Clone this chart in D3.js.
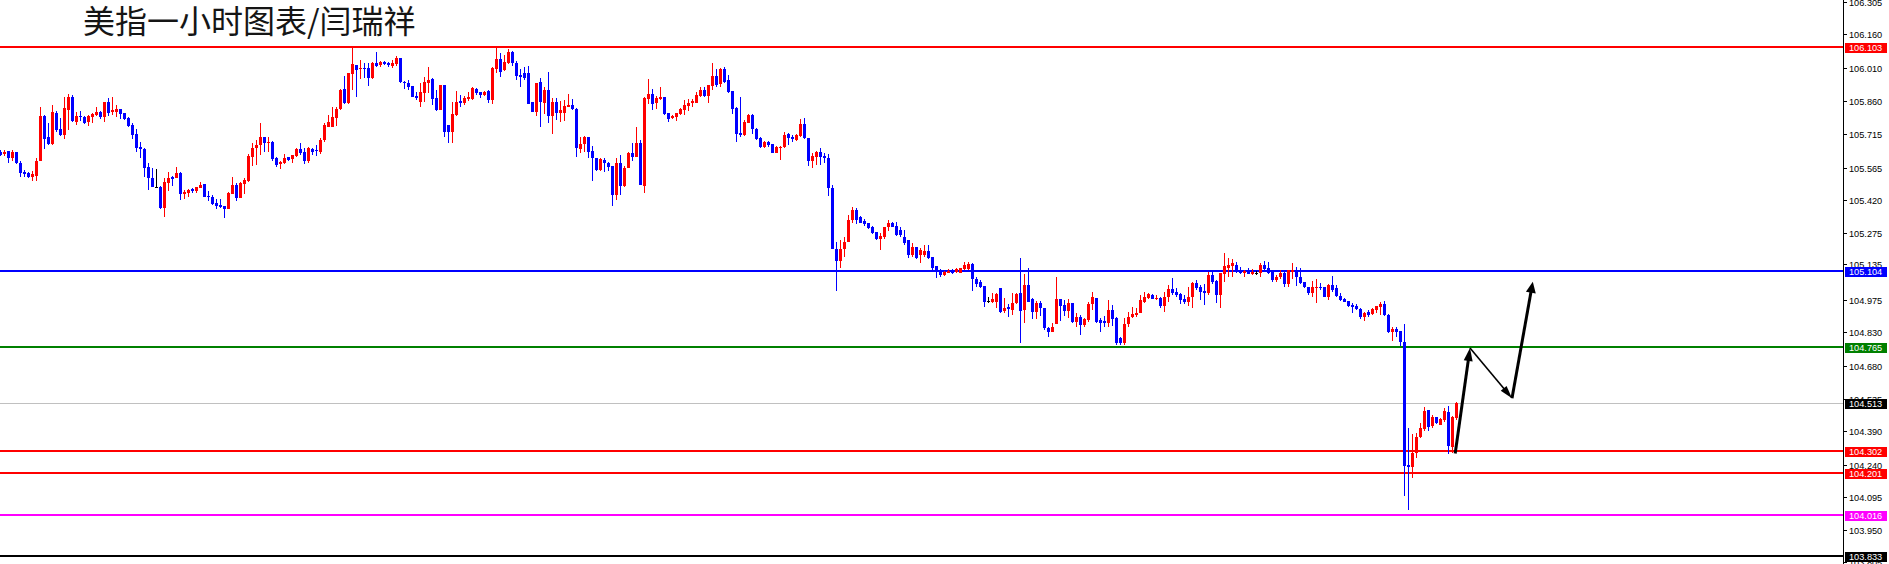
<!DOCTYPE html>
<html><head><meta charset="utf-8">
<script src="https://cdn.jsdelivr.net/npm/d3@7"></script>
<style>html,body{margin:0;padding:0;background:#fff;overflow:hidden}</style>
</head><body>
<svg id="c" width="1889" height="564"></svg>
<script>
const title = "美指一小时图表/闫瑞祥";
const opens = [
105.635,105.626,105.639,105.608,105.635,105.585,105.545,105.541,105.523,105.528,
105.594,105.795,105.702,105.670,105.809,105.737,105.711,105.822,105.880,105.768,
105.795,105.791,105.768,105.791,105.800,105.813,105.791,105.858,105.813,105.813,
105.826,105.809,105.786,105.755,105.715,105.657,105.648,105.568,105.519,105.479,
105.479,105.385,105.496,105.523,105.519,105.541,105.447,105.452,105.470,105.461,
105.474,105.492,105.438,105.434,105.407,105.398,105.394,105.381,105.447,105.487,
105.429,105.492,105.505,105.612,105.653,105.666,105.702,105.675,105.679,105.608,
105.581,105.585,105.612,105.603,105.617,105.648,105.635,105.594,105.648,105.644,
105.635,105.688,105.746,105.746,105.786,105.826,105.916,105.853,105.983,106.023,
106.005,106.009,106.009,105.965,106.032,106.023,106.036,106.032,106.018,106.027,
106.054,105.947,105.942,105.929,105.885,105.858,105.898,105.942,105.960,105.876,
105.822,105.933,105.755,105.724,105.800,105.862,105.853,105.871,105.871,105.916,
105.902,105.889,105.907,105.867,106.005,106.049,106.000,106.032,106.081,106.032,
105.978,105.987,105.987,105.858,105.813,105.947,105.853,105.911,105.795,105.858,
105.809,105.809,105.835,105.844,105.826,105.648,105.670,105.702,105.639,105.608,
105.554,105.599,105.585,105.572,105.443,105.585,105.483,105.563,105.630,105.612,
105.675,105.483,105.871,105.893,105.853,105.871,105.880,105.809,105.786,105.791,
105.804,105.822,105.840,105.853,105.853,105.885,105.911,105.885,105.929,105.974,
105.938,106.005,105.956,105.907,105.831,105.719,105.711,105.764,105.800,105.737,
105.697,105.657,105.679,105.670,105.630,105.656,105.657,105.715,105.702,105.688,
105.706,105.759,105.697,105.594,105.612,105.635,105.617,105.608,105.474,105.202,
105.149,105.202,105.233,105.331,105.376,105.345,105.327,105.318,105.300,105.278,
105.247,105.255,105.300,105.318,105.305,105.287,105.255,105.242,105.175,105.211,
105.175,105.175,105.193,105.166,105.126,105.108,105.086,105.095,105.104,105.099,
105.095,105.113,105.113,105.135,105.068,105.055,105.037,104.970,104.966,104.966,
105.028,104.926,104.943,104.930,104.961,105.006,104.930,105.042,104.979,104.921,
104.961,104.939,104.850,104.832,104.868,104.979,104.952,104.926,104.961,104.877,
104.899,104.863,104.885,104.957,104.984,104.885,104.881,104.872,104.930,104.894,
104.805,104.783,104.868,104.899,104.908,104.917,104.966,104.984,104.997,104.979,
104.984,104.948,104.988,105.024,105.010,105.001,104.979,104.966,104.988,105.050,
105.033,105.015,105.006,105.086,105.059,104.997,105.091,105.117,105.126,105.131,
105.108,105.095,105.104,105.091,105.095,105.095,105.131,105.117,105.099,105.064,
105.077,105.095,105.046,105.099,105.108,105.077,105.055,105.033,105.006,105.028,
105.033,105.033,104.988,105.042,105.028,104.992,104.979,104.970,104.952,104.948,
104.935,104.899,104.921,104.912,104.930,104.943,104.957,104.908,104.832,104.845,
104.836,104.787,104.239,104.230,104.292,104.364,104.399,104.484,104.413,104.453,
104.417,104.439,104.475,104.319,104.448];
const highs = [
105.644,105.644,105.639,105.644,105.635,105.594,105.554,105.545,105.550,105.608,
105.835,105.800,105.764,105.844,105.818,105.786,105.880,105.893,105.889,105.813,
105.818,105.795,105.800,105.809,105.835,105.818,105.858,105.876,105.880,105.844,
105.826,105.809,105.791,105.764,105.737,105.679,105.653,105.585,105.563,105.559,
105.483,105.519,105.545,105.528,105.568,105.545,105.465,105.470,105.474,105.479,
105.501,105.492,105.461,105.443,105.425,105.425,105.394,105.456,105.523,105.496,
105.501,105.519,105.626,105.675,105.688,105.764,105.702,105.702,105.684,105.612,
105.594,105.626,105.612,105.621,105.653,105.675,105.653,105.657,105.653,105.666,
105.697,105.764,105.800,105.835,105.835,105.916,105.974,105.987,106.107,106.023,
106.045,106.032,106.032,106.036,106.081,106.041,106.041,106.036,106.045,106.063,
106.054,105.951,105.956,105.929,105.902,105.942,105.969,106.014,105.965,105.911,
105.933,105.933,105.755,105.858,105.907,105.889,105.885,105.902,105.925,105.920,
105.902,105.907,105.911,106.014,106.103,106.076,106.067,106.094,106.085,106.041,
106.005,106.014,106.018,105.858,105.942,105.965,105.925,105.991,105.876,105.876,
105.862,105.867,105.893,105.871,105.831,105.702,105.706,105.702,105.661,105.608,
105.608,105.608,105.590,105.572,105.608,105.621,105.572,105.635,105.675,105.746,
105.688,105.880,105.960,105.916,105.885,105.925,105.880,105.809,105.800,105.809,
105.831,105.867,105.871,105.871,105.902,105.925,105.925,105.933,106.032,106.005,
106.009,106.014,105.978,105.907,105.835,105.880,105.777,105.804,105.804,105.742,
105.702,105.684,105.684,105.670,105.661,105.661,105.724,105.719,105.711,105.715,
105.782,105.786,105.697,105.630,105.639,105.653,105.630,105.626,105.487,105.233,
105.242,105.255,105.354,105.389,105.385,105.349,105.336,105.318,105.305,105.278,
105.273,105.300,105.331,105.322,105.322,105.300,105.287,105.242,105.229,105.211,
105.206,105.220,105.220,105.166,105.126,105.113,105.104,105.113,105.113,105.117,
105.117,105.144,105.144,105.140,105.077,105.064,105.037,104.988,105.006,105.006,
105.028,104.984,104.957,105.006,105.006,105.162,105.091,105.117,104.984,104.970,
104.970,104.939,104.854,104.872,105.077,104.979,104.975,104.979,104.961,104.917,
104.908,104.894,104.966,105.010,104.984,104.894,104.903,104.975,104.952,104.899,
104.810,104.894,104.921,104.943,104.939,104.997,105.010,105.006,105.001,104.997,
104.988,105.010,105.042,105.073,105.028,105.006,104.997,105.033,105.055,105.064,
105.042,105.046,105.099,105.099,105.064,105.095,105.184,105.162,105.158,105.144,
105.122,105.108,105.117,105.113,105.104,105.140,105.149,105.144,105.099,105.086,
105.108,105.099,105.108,105.140,105.122,105.117,105.055,105.033,105.059,105.068,
105.050,105.033,105.046,105.082,105.042,105.006,104.984,104.970,104.961,104.957,
104.939,104.921,104.930,104.939,104.948,104.966,104.970,104.912,104.854,104.854,
104.836,104.868,104.404,104.377,104.381,104.426,104.497,104.484,104.462,104.453,
104.448,104.493,104.502,104.457,104.520];
const lows = [
105.617,105.617,105.585,105.594,105.581,105.523,105.523,105.519,105.505,105.505,
105.594,105.648,105.666,105.666,105.724,105.706,105.693,105.733,105.768,105.755,
105.773,105.759,105.751,105.764,105.795,105.782,105.768,105.795,105.800,105.791,
105.782,105.777,105.746,105.693,105.635,105.608,105.523,105.465,105.479,105.479,
105.381,105.345,105.461,105.483,105.519,105.421,105.425,105.434,105.452,105.452,
105.474,105.434,105.416,105.398,105.381,105.385,105.340,105.381,105.447,105.416,
105.429,105.447,105.501,105.572,105.577,105.621,105.635,105.635,105.594,105.568,
105.559,105.581,105.594,105.585,105.612,105.621,105.581,105.585,105.621,105.617,
105.626,105.679,105.746,105.746,105.751,105.822,105.849,105.849,105.911,105.880,
105.960,105.965,105.929,105.960,106.014,106.014,106.023,106.014,106.009,106.018,
105.942,105.916,105.911,105.880,105.867,105.835,105.858,105.898,105.844,105.818,
105.822,105.702,105.675,105.675,105.795,105.835,105.844,105.862,105.867,105.889,
105.876,105.885,105.853,105.849,105.987,105.969,105.996,106.027,106.018,105.956,
105.925,105.956,105.849,105.813,105.795,105.746,105.804,105.764,105.715,105.777,
105.768,105.773,105.835,105.822,105.612,105.630,105.635,105.608,105.505,105.550,
105.550,105.545,105.550,105.394,105.421,105.443,105.479,105.563,105.594,105.612,
105.487,105.452,105.849,105.822,105.826,105.867,105.800,105.768,105.782,105.773,
105.800,105.800,105.818,105.835,105.853,105.880,105.880,105.853,105.911,105.925,
105.925,105.942,105.898,105.804,105.679,105.702,105.706,105.764,105.715,105.688,
105.653,105.653,105.657,105.630,105.630,105.599,105.653,105.666,105.679,105.684,
105.702,105.693,105.572,105.563,105.577,105.577,105.585,105.438,105.202,105.015,
105.117,105.166,105.233,105.318,105.313,105.318,105.305,105.291,105.269,105.242,
105.198,105.247,105.282,105.300,105.260,105.255,105.220,105.162,105.166,105.158,
105.140,105.166,105.158,105.108,105.073,105.077,105.082,105.095,105.091,105.095,
105.095,105.108,105.108,105.015,105.033,105.028,104.943,104.961,104.961,104.939,
104.917,104.917,104.899,104.908,104.957,104.783,104.872,104.966,104.890,104.890,
104.903,104.841,104.810,104.832,104.868,104.881,104.903,104.894,104.872,104.854,
104.818,104.854,104.877,104.930,104.872,104.832,104.854,104.854,104.859,104.774,
104.774,104.774,104.854,104.894,104.899,104.917,104.961,104.979,104.979,104.975,
104.939,104.921,104.966,104.997,104.988,104.957,104.957,104.948,104.939,105.019,
104.975,104.952,104.997,105.046,104.961,104.939,105.055,105.077,105.077,105.095,
105.091,105.077,105.091,105.086,105.086,105.077,105.108,105.091,105.055,105.055,
105.068,105.033,105.033,105.068,105.037,105.046,105.028,104.997,104.988,104.961,
105.019,104.988,104.975,105.010,104.988,104.970,104.966,104.943,104.917,104.930,
104.890,104.881,104.899,104.908,104.917,104.908,104.903,104.827,104.792,104.810,
104.769,104.100,104.038,104.181,104.270,104.359,104.390,104.390,104.404,104.422,
104.417,104.431,104.288,104.292,104.439];
const closes = [
105.621,105.635,105.608,105.635,105.585,105.541,105.537,105.523,105.537,105.594,
105.795,105.693,105.670,105.813,105.733,105.711,105.831,105.880,105.773,105.795,
105.791,105.764,105.795,105.804,105.813,105.791,105.858,105.809,105.822,105.826,
105.804,105.782,105.751,105.711,105.653,105.648,105.563,105.519,105.479,105.479,
105.385,105.501,105.519,105.514,105.541,105.447,105.456,105.465,105.461,105.479,
105.487,105.434,105.434,105.403,105.394,105.389,105.381,105.452,105.487,105.429,
105.496,105.510,105.617,105.653,105.666,105.702,105.675,105.679,105.603,105.577,
105.590,105.608,105.599,105.621,105.648,105.630,105.594,105.653,105.635,105.639,
105.688,105.755,105.768,105.791,105.826,105.911,105.853,105.987,106.027,106.000,
106.009,106.005,105.965,106.032,106.018,106.036,106.027,106.023,106.032,106.054,
105.947,105.942,105.925,105.880,105.876,105.902,105.947,105.956,105.871,105.822,
105.933,105.724,105.724,105.804,105.858,105.853,105.876,105.880,105.920,105.898,
105.889,105.902,105.867,106.009,106.049,105.991,106.036,106.081,106.032,105.974,
105.969,105.965,105.849,105.813,105.942,105.858,105.911,105.795,105.858,105.809,
105.822,105.840,105.844,105.826,105.653,105.670,105.702,105.635,105.608,105.554,
105.603,105.585,105.568,105.443,105.585,105.483,105.563,105.630,105.612,105.675,
105.487,105.876,105.893,105.849,105.876,105.880,105.804,105.782,105.795,105.809,
105.826,105.844,105.853,105.862,105.889,105.911,105.885,105.933,105.974,105.933,
106.005,105.947,105.902,105.826,105.715,105.711,105.768,105.800,105.737,105.693,
105.657,105.679,105.666,105.630,105.657,105.658,105.711,105.697,105.693,105.711,
105.759,105.697,105.594,105.617,105.635,105.612,105.608,105.474,105.202,105.149,
105.202,105.233,105.331,105.376,105.331,105.318,105.313,105.296,105.273,105.247,
105.260,105.300,105.318,105.300,105.264,105.264,105.229,105.175,105.211,105.162,
105.198,105.193,105.162,105.117,105.099,105.086,105.099,105.104,105.095,105.113,
105.117,105.131,105.135,105.068,105.046,105.033,104.966,104.970,104.979,105.001,
104.921,104.939,104.935,104.961,105.001,104.926,105.042,104.966,104.921,104.961,
104.939,104.850,104.832,104.854,104.979,104.948,104.926,104.961,104.877,104.899,
104.863,104.890,104.957,104.988,104.877,104.872,104.872,104.930,104.890,104.783,
104.783,104.868,104.899,104.912,104.917,104.975,104.988,105.001,104.979,104.984,
104.948,104.988,105.024,105.006,104.997,104.975,104.966,104.988,105.050,105.028,
105.010,105.006,105.086,105.055,104.997,105.095,105.126,105.131,105.140,105.104,
105.095,105.104,105.091,105.099,105.095,105.131,105.113,105.095,105.064,105.077,
105.095,105.046,105.108,105.108,105.077,105.050,105.033,105.006,105.033,105.033,
105.028,104.988,105.042,105.019,104.992,104.975,104.966,104.948,104.943,104.935,
104.899,104.917,104.908,104.935,104.948,104.957,104.908,104.832,104.845,104.832,
104.787,104.234,104.230,104.292,104.364,104.404,104.480,104.408,104.453,104.426,
104.444,104.480,104.323,104.453,104.513];

const tickLabels = ["106.305","106.160","106.010","105.860","105.715","105.565","105.420","105.275","105.135",
  "104.975","104.830","104.680","104.535","104.390","104.240","104.095","103.950","103.805"];
const levelPrices = [106.103, 105.104, 104.765, 104.513, 104.302, 104.201, 104.016, 103.833];
const levelLabels = ["106.103","105.104","104.765","104.513","104.302","104.201","104.016","103.833"];
// forecast path: [bar index, price]
const arrowPath = [[363.8, 104.290], [367.5, 104.760], [378.0, 104.536], [383.2, 105.056]];

// ---- styles (kept separate from data) ----
const levelLineColors = ["#ff0000","#0000ff","#008000","#c0c0c0","#ff0000","#ff0000","#ff00ff","#000000"];
const levelBoxColors  = ["#ff0000","#0000ff","#008000","#000000","#ff0000","#ff0000","#ff00ff","#000000"];
const levelWidths     = [2,2,2,1,2,2,2,2];

const W = 1889, H = 564, axisX = 1843;
const svg = d3.select("#c");
svg.append("rect").attr("width", W).attr("height", H).attr("fill", "#fff");

const x = d3.scaleLinear().domain([0, axisX / 4]).range([0, axisX]);
const y = d3.scaleLinear().domain([103.833, 106.305]).range([555.9, 1.7]);

const bars = opens.map((o, i) => ({i, o, h: highs[i], l: lows[i], c: closes[i]}));
const col = d => d.c > d.o ? "#ff0000" : (d.c < d.o ? "#0000ff" : "#000000");

// level lines
const lv = svg.append("g");
levelPrices.forEach((p, k) => {
  const yy = Math.round(y(p));
  lv.append("line").attr("x1", 0).attr("x2", axisX).attr("y1", yy + (levelWidths[k] % 2 ? 0.5 : 0)).attr("y2", yy + (levelWidths[k] % 2 ? 0.5 : 0))
    .attr("stroke", levelLineColors[k]).attr("stroke-width", levelWidths[k]).attr("shape-rendering", "crispEdges");
});

// candles
const cg = svg.append("g").attr("shape-rendering", "crispEdges");
cg.selectAll("line.w").data(bars).join("line").attr("class", "w")
  .attr("x1", d => Math.round(x(d.i)) + 0.5).attr("x2", d => Math.round(x(d.i)) + 0.5)
  .attr("y1", d => y(d.h)).attr("y2", d => y(d.l)).attr("stroke", col).attr("stroke-width", 1);
cg.selectAll("rect.b").data(bars).join("rect").attr("class", "b")
  .attr("x", d => Math.round(x(d.i)) - 1).attr("width", 3)
  .attr("y", d => Math.min(y(d.o), y(d.c)))
  .attr("height", d => Math.max(1, Math.abs(y(d.o) - y(d.c))))
  .attr("fill", col);

// forecast arrows
function arrow(p0, p1, sw, hl, hw) {
  const x0 = x(p0[0]), y0 = y(p0[1]), x1 = x(p1[0]), y1 = y(p1[1]);
  const dx = x1 - x0, dy = y1 - y0, L = Math.hypot(dx, dy), ux = dx / L, uy = dy / L;
  const bx = x1 - ux * hl, by = y1 - uy * hl;
  svg.append("line").attr("x1", x0).attr("y1", y0).attr("x2", x1 - ux * hl * 0.7).attr("y2", y1 - uy * hl * 0.7)
    .attr("stroke", "#000").attr("stroke-width", sw);
  svg.append("polygon").attr("points", [[x1, y1], [bx - uy * hw, by + ux * hw], [bx + uy * hw, by - ux * hw]].map(q => q.join(",")).join(" "))
    .attr("fill", "#000");
}
arrow(arrowPath[0], arrowPath[1], 3, 13, 4.5);
arrow(arrowPath[1], arrowPath[2], 1.6, 13, 3.8);
arrow(arrowPath[2], arrowPath[3], 3, 11, 5);

// right axis
const ax = svg.append("g");
ax.append("rect").attr("x", axisX + 1).attr("y", 0).attr("width", W - axisX).attr("height", H).attr("fill", "#fff");
ax.append("line").attr("x1", axisX + 0.5).attr("x2", axisX + 0.5).attr("y1", 0).attr("y2", H)
  .attr("stroke", "#000").attr("stroke-width", 1).attr("shape-rendering", "crispEdges");
tickLabels.forEach(t => {
  const yy = Math.round(y(+t)) + 0.5;
  ax.append("line").attr("x1", axisX).attr("x2", axisX + 4).attr("y1", yy).attr("y2", yy)
    .attr("stroke", "#000").attr("shape-rendering", "crispEdges");
  ax.append("text").attr("x", axisX + 6).attr("y", yy).attr("dy", "0.35em")
    .attr("font-family", "'Liberation Sans', Arial, sans-serif").attr("font-size", 9.2).attr("fill", "#000").text(t);
});
levelPrices.forEach((p, k) => {
  const yy = y(p);
  ax.append("rect").attr("x", axisX + 2).attr("y", Math.round(yy) - 4).attr("width", 42).attr("height", 10)
    .attr("fill", levelBoxColors[k]).attr("shape-rendering", "crispEdges");
  ax.append("text").attr("x", axisX + 6).attr("y", Math.round(yy) + 1).attr("dy", "0.35em")
    .attr("font-family", "'Liberation Sans', Arial, sans-serif").attr("font-size", 9.2).attr("fill", "#fff").text(levelLabels[k]);
});

// title
svg.append("text").attr("x", 83).attr("y", 33)
  .attr("font-family", "'Noto Sans CJK SC', sans-serif").attr("font-size", 32).attr("fill", "#151515").text(title);
</script>
</body></html>
